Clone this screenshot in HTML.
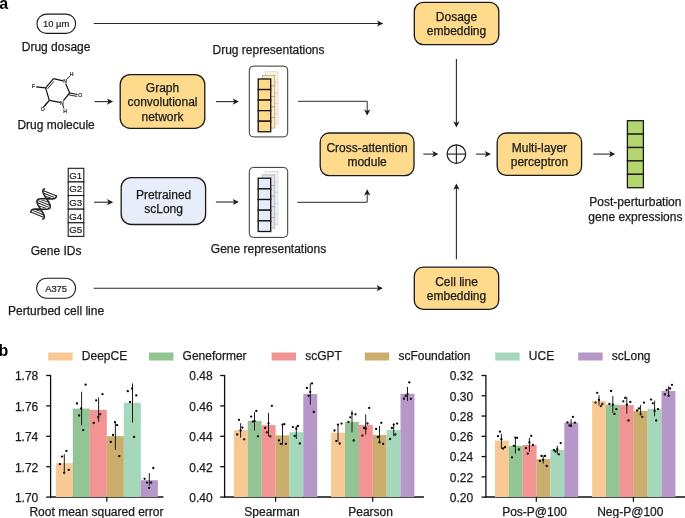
<!DOCTYPE html>
<html><head><meta charset="utf-8"><style>
html,body{margin:0;padding:0;background:#fff;}
body{width:685px;height:518px;overflow:hidden;}
svg{display:block;will-change:transform;font-family:"Liberation Sans",sans-serif;}
</style></head><body>
<svg width="685" height="518" viewBox="0 0 685 518">
<text x="-0.80" y="8.60" font-size="16" text-anchor="start" font-weight="bold" fill="#000" stroke="#000" stroke-width="0" >a</text>
<rect x="36.90" y="14.10" width="38.70" height="19.30" rx="9.6" ry="9.6" fill="#fff" stroke="#1a1a1a" stroke-width="1.1"/>
<text x="56.10" y="27.20" font-size="9.4" text-anchor="middle" font-weight="normal" fill="#1a1a1a" stroke="#1a1a1a" stroke-width="0.2" >10 µm</text>
<text x="56.10" y="50.80" font-size="12" text-anchor="middle" font-weight="normal" fill="#1a1a1a" stroke="#1a1a1a" stroke-width="0.25" >Drug dosage</text>
<line x1="93.70" y1="23.50" x2="379.20" y2="23.50" stroke="#2a2a2a" stroke-width="1.1"/>
<path d="M383.20,23.50 L377.00,26.60 L378.60,23.50 L377.00,20.40 Z" fill="#1a1a1a"/>
<rect x="414.30" y="2.30" width="84.50" height="42.30" rx="9" ry="9" fill="#FDDA8C" stroke="#1a1a1a" stroke-width="1.3"/>
<text x="456.50" y="20.60" font-size="12" text-anchor="middle" font-weight="normal" fill="#1a1a1a" stroke="#1a1a1a" stroke-width="0.25" >Dosage</text>
<text x="456.50" y="34.90" font-size="12" text-anchor="middle" font-weight="normal" fill="#1a1a1a" stroke="#1a1a1a" stroke-width="0.25" >embedding</text>
<line x1="456.40" y1="59.00" x2="456.40" y2="123.50" stroke="#2a2a2a" stroke-width="1.1"/>
<path d="M456.40,127.50 L453.30,121.30 L456.40,122.90 L459.50,121.30 Z" fill="#1a1a1a"/>
<line x1="36.20" y1="86.90" x2="45.60" y2="87.90" stroke="#111" stroke-width="1.2"/>
<line x1="45.60" y1="87.90" x2="53.50" y2="78.60" stroke="#111" stroke-width="1.2"/>
<line x1="47.60" y1="88.80" x2="53.90" y2="81.30" stroke="#111" stroke-width="0.9"/>
<line x1="53.50" y1="78.60" x2="63.20" y2="80.90" stroke="#111" stroke-width="1.2"/>
<line x1="65.60" y1="83.60" x2="69.70" y2="93.00" stroke="#111" stroke-width="1.2"/>
<line x1="69.70" y1="93.00" x2="77.60" y2="94.50" stroke="#111" stroke-width="1.2"/>
<line x1="69.30" y1="95.00" x2="77.30" y2="96.40" stroke="#111" stroke-width="0.9"/>
<line x1="69.70" y1="93.00" x2="63.40" y2="100.60" stroke="#111" stroke-width="1.2"/>
<line x1="59.90" y1="102.30" x2="49.30" y2="100.40" stroke="#111" stroke-width="1.2"/>
<line x1="49.30" y1="100.40" x2="45.60" y2="87.90" stroke="#111" stroke-width="1.2"/>
<line x1="49.30" y1="100.40" x2="44.20" y2="106.60" stroke="#111" stroke-width="1.2"/>
<line x1="47.60" y1="101.80" x2="43.00" y2="107.30" stroke="#111" stroke-width="0.9"/>
<line x1="66.30" y1="79.40" x2="69.80" y2="76.20" stroke="#111" stroke-width="1.0"/>
<line x1="62.60" y1="104.80" x2="63.90" y2="108.30" stroke="#111" stroke-width="1.0"/>
<text x="33.60" y="88.00" font-size="5.2" text-anchor="middle" font-weight="normal" fill="#1a1a1a" stroke="#1a1a1a" stroke-width="0.2" font-weight="normal">F</text>
<text x="65.00" y="83.30" font-size="5.2" text-anchor="middle" font-weight="normal" fill="#1a1a1a" stroke="#1a1a1a" stroke-width="0.2" >N</text>
<text x="71.60" y="76.40" font-size="5.2" text-anchor="middle" font-weight="normal" fill="#1a1a1a" stroke="#1a1a1a" stroke-width="0.2" >H</text>
<text x="80.30" y="96.80" font-size="5.2" text-anchor="middle" font-weight="normal" fill="#1a1a1a" stroke="#1a1a1a" stroke-width="0.2" >O</text>
<text x="61.80" y="104.60" font-size="5.2" text-anchor="middle" font-weight="normal" fill="#1a1a1a" stroke="#1a1a1a" stroke-width="0.2" >N</text>
<text x="65.00" y="112.90" font-size="5.2" text-anchor="middle" font-weight="normal" fill="#1a1a1a" stroke="#1a1a1a" stroke-width="0.2" >H</text>
<text x="42.80" y="110.60" font-size="5.2" text-anchor="middle" font-weight="normal" fill="#1a1a1a" stroke="#1a1a1a" stroke-width="0.2" >O</text>
<text x="56.10" y="128.90" font-size="12" text-anchor="middle" font-weight="normal" fill="#1a1a1a" stroke="#1a1a1a" stroke-width="0.25" >Drug molecule</text>
<line x1="94.60" y1="101.60" x2="109.10" y2="101.60" stroke="#2a2a2a" stroke-width="1.1"/>
<path d="M113.10,101.60 L106.90,104.70 L108.50,101.60 L106.90,98.50 Z" fill="#1a1a1a"/>
<rect x="120.20" y="74.60" width="84.60" height="53.70" rx="10" ry="10" fill="#FDDA8C" stroke="#1a1a1a" stroke-width="1.3"/>
<text x="162.50" y="91.80" font-size="12" text-anchor="middle" font-weight="normal" fill="#1a1a1a" stroke="#1a1a1a" stroke-width="0.25" >Graph</text>
<text x="162.50" y="106.20" font-size="12" text-anchor="middle" font-weight="normal" fill="#1a1a1a" stroke="#1a1a1a" stroke-width="0.25" >convolutional</text>
<text x="162.50" y="120.60" font-size="12" text-anchor="middle" font-weight="normal" fill="#1a1a1a" stroke="#1a1a1a" stroke-width="0.25" >network</text>
<line x1="215.90" y1="101.60" x2="234.90" y2="101.60" stroke="#2a2a2a" stroke-width="1.1"/>
<path d="M238.90,101.60 L232.70,104.70 L234.30,101.60 L232.70,98.50 Z" fill="#1a1a1a"/>
<rect x="249.30" y="66.10" width="38.40" height="70.80" rx="4" ry="4" fill="#fff" stroke="#333" stroke-width="1.0"/>
<rect x="265.40" y="71.80" width="12.5" height="10.55" fill="#FEF6E2" stroke="#D9D4C8" stroke-width="0.8"/>
<rect x="265.40" y="82.35" width="12.5" height="10.55" fill="#FEF6E2" stroke="#D9D4C8" stroke-width="0.8"/>
<rect x="265.40" y="92.90" width="12.5" height="10.55" fill="#FEF6E2" stroke="#D9D4C8" stroke-width="0.8"/>
<rect x="265.40" y="103.45" width="12.5" height="10.55" fill="#FEF6E2" stroke="#D9D4C8" stroke-width="0.8"/>
<rect x="265.40" y="114.00" width="12.5" height="10.55" fill="#FEF6E2" stroke="#D9D4C8" stroke-width="0.8"/>
<rect x="262.30" y="75.30" width="12.5" height="10.55" fill="#FDEBC0" stroke="#A9A498" stroke-width="0.8"/>
<rect x="262.30" y="85.85" width="12.5" height="10.55" fill="#FDEBC0" stroke="#A9A498" stroke-width="0.8"/>
<rect x="262.30" y="96.40" width="12.5" height="10.55" fill="#FDEBC0" stroke="#A9A498" stroke-width="0.8"/>
<rect x="262.30" y="106.95" width="12.5" height="10.55" fill="#FDEBC0" stroke="#A9A498" stroke-width="0.8"/>
<rect x="262.30" y="117.50" width="12.5" height="10.55" fill="#FDEBC0" stroke="#A9A498" stroke-width="0.8"/>
<rect x="258.20" y="79.00" width="12.5" height="10.55" fill="#FDDA8C" stroke="#111" stroke-width="1.3"/>
<rect x="258.20" y="89.55" width="12.5" height="10.55" fill="#FDDA8C" stroke="#111" stroke-width="1.3"/>
<rect x="258.20" y="100.10" width="12.5" height="10.55" fill="#FDDA8C" stroke="#111" stroke-width="1.3"/>
<rect x="258.20" y="110.65" width="12.5" height="10.55" fill="#FDDA8C" stroke="#111" stroke-width="1.3"/>
<rect x="258.20" y="121.20" width="12.5" height="10.55" fill="#FDDA8C" stroke="#111" stroke-width="1.3"/>
<text x="268.50" y="54.20" font-size="12" text-anchor="middle" font-weight="normal" fill="#1a1a1a" stroke="#1a1a1a" stroke-width="0.25" >Drug representations</text>
<line x1="298.10" y1="101.30" x2="367.20" y2="101.30" stroke="#2a2a2a" stroke-width="1.0"/>
<line x1="367.20" y1="101.30" x2="367.20" y2="111.50" stroke="#2a2a2a" stroke-width="1.0"/>
<path d="M367.20,115.60 L364.10,109.40 L367.20,111.00 L370.30,109.40 Z" fill="#1a1a1a"/>
<rect x="320.20" y="133.00" width="93.80" height="42.60" rx="9" ry="9" fill="#FDDA8C" stroke="#1a1a1a" stroke-width="1.3"/>
<text x="367.10" y="152.00" font-size="12" text-anchor="middle" font-weight="normal" fill="#1a1a1a" stroke="#1a1a1a" stroke-width="0.25" >Cross-attention</text>
<text x="367.10" y="165.70" font-size="12" text-anchor="middle" font-weight="normal" fill="#1a1a1a" stroke="#1a1a1a" stroke-width="0.25" >module</text>
<line x1="423.30" y1="154.10" x2="434.40" y2="154.10" stroke="#2a2a2a" stroke-width="1.1"/>
<path d="M438.40,154.10 L432.20,157.20 L433.80,154.10 L432.20,151.00 Z" fill="#1a1a1a"/>
<circle cx="456.4" cy="154.1" r="9.3" fill="#fff" stroke="#1a1a1a" stroke-width="1.2"/>
<line x1="447.10" y1="154.10" x2="465.70" y2="154.10" stroke="#2a2a2a" stroke-width="1.2"/>
<line x1="456.40" y1="144.80" x2="456.40" y2="163.40" stroke="#2a2a2a" stroke-width="1.2"/>
<line x1="476.00" y1="154.10" x2="487.00" y2="154.10" stroke="#2a2a2a" stroke-width="1.1"/>
<path d="M491.00,154.10 L484.80,157.20 L486.40,154.10 L484.80,151.00 Z" fill="#1a1a1a"/>
<rect x="497.20" y="133.00" width="84.40" height="42.40" rx="9" ry="9" fill="#FDDA8C" stroke="#1a1a1a" stroke-width="1.3"/>
<text x="539.40" y="152.00" font-size="12" text-anchor="middle" font-weight="normal" fill="#1a1a1a" stroke="#1a1a1a" stroke-width="0.25" >Multi-layer</text>
<text x="539.40" y="166.20" font-size="12" text-anchor="middle" font-weight="normal" fill="#1a1a1a" stroke="#1a1a1a" stroke-width="0.25" >perceptron</text>
<line x1="593.20" y1="154.10" x2="611.20" y2="154.10" stroke="#2a2a2a" stroke-width="1.1"/>
<path d="M615.20,154.10 L609.00,157.20 L610.60,154.10 L609.00,151.00 Z" fill="#1a1a1a"/>
<rect x="627.4" y="120.70" width="16.0" height="13.4" fill="#B3D56E" stroke="#1a1a1a" stroke-width="1.3"/>
<rect x="627.4" y="134.10" width="16.0" height="13.4" fill="#B3D56E" stroke="#1a1a1a" stroke-width="1.3"/>
<rect x="627.4" y="147.50" width="16.0" height="13.4" fill="#B3D56E" stroke="#1a1a1a" stroke-width="1.3"/>
<rect x="627.4" y="160.90" width="16.0" height="13.4" fill="#B3D56E" stroke="#1a1a1a" stroke-width="1.3"/>
<rect x="627.4" y="174.30" width="16.0" height="13.4" fill="#B3D56E" stroke="#1a1a1a" stroke-width="1.3"/>
<text x="635.40" y="206.30" font-size="12" text-anchor="middle" font-weight="normal" fill="#1a1a1a" stroke="#1a1a1a" stroke-width="0.25" >Post-perturbation</text>
<text x="635.40" y="220.50" font-size="12" text-anchor="middle" font-weight="normal" fill="#1a1a1a" stroke="#1a1a1a" stroke-width="0.25" >gene expressions</text>
<g transform="translate(43.6,204.0) rotate(30)"><path d="M-6.41,-14.00 L-6.81,-13.53 L-7.11,-13.07 L-7.31,-12.60 L-7.40,-12.13 L-7.37,-11.67 L-7.24,-11.20 L-7.00,-10.73 L-6.65,-10.27 L-6.21,-9.80 L-5.67,-9.33 L-5.05,-8.87 L-4.35,-8.40 L-3.59,-7.93 L-2.77,-7.47 L-1.92,-7.00 L-1.03,-6.53 L-0.13,-6.07 L0.77,-5.60 L1.66,-5.13 L2.53,-4.67 L3.36,-4.20 L4.14,-3.73 L4.85,-3.27 L5.50,-2.80 L6.06,-2.33 L6.53,-1.87 L6.91,-1.40 L7.18,-0.93 L7.34,-0.47 L7.40,0.00 L7.34,0.47 L7.18,0.93 L6.91,1.40 L6.53,1.87 L6.06,2.33 L5.50,2.80 L4.85,3.27 L4.14,3.73 L3.36,4.20 L2.53,4.67 L1.66,5.13 L0.77,5.60 L-0.13,6.07 L-1.03,6.53 L-1.92,7.00 L-2.77,7.47 L-3.59,7.93 L-4.35,8.40 L-5.05,8.87 L-5.67,9.33 L-6.21,9.80 L-6.65,10.27 L-7.00,10.73 L-7.24,11.20 L-7.37,11.67 L-7.40,12.13 L-7.31,12.60 L-7.11,13.07 L-6.81,13.53 L-6.41,14.00" fill="none" stroke="#222" stroke-width="1.6"/><path d="M6.41,-14.00 L6.81,-13.53 L7.11,-13.07 L7.31,-12.60 L7.40,-12.13 L7.37,-11.67 L7.24,-11.20 L7.00,-10.73 L6.65,-10.27 L6.21,-9.80 L5.67,-9.33 L5.05,-8.87 L4.35,-8.40 L3.59,-7.93 L2.77,-7.47 L1.92,-7.00 L1.03,-6.53 L0.13,-6.07 L-0.77,-5.60 L-1.66,-5.13 L-2.53,-4.67 L-3.36,-4.20 L-4.14,-3.73 L-4.85,-3.27 L-5.50,-2.80 L-6.06,-2.33 L-6.53,-1.87 L-6.91,-1.40 L-7.18,-0.93 L-7.34,-0.47 L-7.40,0.00 L-7.34,0.47 L-7.18,0.93 L-6.91,1.40 L-6.53,1.87 L-6.06,2.33 L-5.50,2.80 L-4.85,3.27 L-4.14,3.73 L-3.36,4.20 L-2.53,4.67 L-1.66,5.13 L-0.77,5.60 L0.13,6.07 L1.03,6.53 L1.92,7.00 L2.77,7.47 L3.59,7.93 L4.35,8.40 L5.05,8.87 L5.67,9.33 L6.21,9.80 L6.65,10.27 L7.00,10.73 L7.24,11.20 L7.37,11.67 L7.40,12.13 L7.31,12.60 L7.11,13.07 L6.81,13.53 L6.41,14.00" fill="none" stroke="#222" stroke-width="1.6"/><line x1="-6.66" y1="-11.50" x2="6.66" y2="-13.30" stroke="#222" stroke-width="0.95"/><line x1="-5.89" y1="-9.30" x2="5.89" y2="-11.10" stroke="#222" stroke-width="0.95"/><line x1="-3.00" y1="-7.10" x2="3.00" y2="-8.90" stroke="#222" stroke-width="0.95"/><line x1="-4.11" y1="-2.40" x2="4.11" y2="-4.20" stroke="#222" stroke-width="0.95"/><line x1="-6.40" y1="-0.20" x2="6.40" y2="-2.00" stroke="#222" stroke-width="0.95"/><line x1="-6.40" y1="2.00" x2="6.40" y2="0.20" stroke="#222" stroke-width="0.95"/><line x1="-4.11" y1="4.20" x2="4.11" y2="2.40" stroke="#222" stroke-width="0.95"/><line x1="-3.00" y1="8.90" x2="3.00" y2="7.10" stroke="#222" stroke-width="0.95"/><line x1="-5.89" y1="11.10" x2="5.89" y2="9.30" stroke="#222" stroke-width="0.95"/><line x1="-6.66" y1="13.30" x2="6.66" y2="11.50" stroke="#222" stroke-width="0.95"/></g>
<rect x="68.2" y="168.30" width="15.6" height="13.62" fill="#fff" stroke="#1a1a1a" stroke-width="1.1"/>
<text x="75.80" y="178.80" font-size="9.7" text-anchor="middle" font-weight="normal" fill="#1a1a1a" stroke="#1a1a1a" stroke-width="0.2" >G1</text>
<rect x="68.2" y="181.92" width="15.6" height="13.62" fill="#fff" stroke="#1a1a1a" stroke-width="1.1"/>
<text x="75.80" y="192.42" font-size="9.7" text-anchor="middle" font-weight="normal" fill="#1a1a1a" stroke="#1a1a1a" stroke-width="0.2" >G2</text>
<rect x="68.2" y="195.54" width="15.6" height="13.62" fill="#fff" stroke="#1a1a1a" stroke-width="1.1"/>
<text x="75.80" y="206.04" font-size="9.7" text-anchor="middle" font-weight="normal" fill="#1a1a1a" stroke="#1a1a1a" stroke-width="0.2" >G3</text>
<rect x="68.2" y="209.16" width="15.6" height="13.62" fill="#fff" stroke="#1a1a1a" stroke-width="1.1"/>
<text x="75.80" y="219.66" font-size="9.7" text-anchor="middle" font-weight="normal" fill="#1a1a1a" stroke="#1a1a1a" stroke-width="0.2" >G4</text>
<rect x="68.2" y="222.78" width="15.6" height="13.62" fill="#fff" stroke="#1a1a1a" stroke-width="1.1"/>
<text x="75.80" y="233.28" font-size="9.7" text-anchor="middle" font-weight="normal" fill="#1a1a1a" stroke="#1a1a1a" stroke-width="0.2" >G5</text>
<text x="56.10" y="254.80" font-size="12" text-anchor="middle" font-weight="normal" fill="#1a1a1a" stroke="#1a1a1a" stroke-width="0.25" >Gene IDs</text>
<line x1="94.10" y1="202.20" x2="109.20" y2="202.20" stroke="#2a2a2a" stroke-width="1.1"/>
<path d="M113.20,202.20 L107.00,205.30 L108.60,202.20 L107.00,199.10 Z" fill="#1a1a1a"/>
<rect x="121.20" y="177.60" width="84.40" height="46.90" rx="10" ry="10" fill="#E8EEF9" stroke="#1a1a1a" stroke-width="1.3"/>
<text x="163.60" y="199.00" font-size="12" text-anchor="middle" font-weight="normal" fill="#1a1a1a" stroke="#1a1a1a" stroke-width="0.25" >Pretrained</text>
<text x="163.60" y="213.20" font-size="12" text-anchor="middle" font-weight="normal" fill="#1a1a1a" stroke="#1a1a1a" stroke-width="0.25" >scLong</text>
<line x1="215.90" y1="202.00" x2="234.90" y2="202.00" stroke="#2a2a2a" stroke-width="1.1"/>
<path d="M238.90,202.00 L232.70,205.10 L234.30,202.00 L232.70,198.90 Z" fill="#1a1a1a"/>
<rect x="249.30" y="167.40" width="38.40" height="70.00" rx="4" ry="4" fill="#fff" stroke="#333" stroke-width="1.0"/>
<rect x="265.40" y="171.50" width="12.5" height="10.66" fill="#F4F6FA" stroke="#D4D6DA" stroke-width="0.8"/>
<rect x="265.40" y="182.16" width="12.5" height="10.66" fill="#F4F6FA" stroke="#D4D6DA" stroke-width="0.8"/>
<rect x="265.40" y="192.82" width="12.5" height="10.66" fill="#F4F6FA" stroke="#D4D6DA" stroke-width="0.8"/>
<rect x="265.40" y="203.48" width="12.5" height="10.66" fill="#F4F6FA" stroke="#D4D6DA" stroke-width="0.8"/>
<rect x="265.40" y="214.14" width="12.5" height="10.66" fill="#F4F6FA" stroke="#D4D6DA" stroke-width="0.8"/>
<rect x="262.30" y="174.90" width="12.5" height="10.66" fill="#E2E6EE" stroke="#A8AAAE" stroke-width="0.8"/>
<rect x="262.30" y="185.56" width="12.5" height="10.66" fill="#E2E6EE" stroke="#A8AAAE" stroke-width="0.8"/>
<rect x="262.30" y="196.22" width="12.5" height="10.66" fill="#E2E6EE" stroke="#A8AAAE" stroke-width="0.8"/>
<rect x="262.30" y="206.88" width="12.5" height="10.66" fill="#E2E6EE" stroke="#A8AAAE" stroke-width="0.8"/>
<rect x="262.30" y="217.54" width="12.5" height="10.66" fill="#E2E6EE" stroke="#A8AAAE" stroke-width="0.8"/>
<rect x="258.20" y="178.20" width="12.5" height="10.66" fill="#E6EDF8" stroke="#111" stroke-width="1.3"/>
<rect x="258.20" y="188.86" width="12.5" height="10.66" fill="#E6EDF8" stroke="#111" stroke-width="1.3"/>
<rect x="258.20" y="199.52" width="12.5" height="10.66" fill="#E6EDF8" stroke="#111" stroke-width="1.3"/>
<rect x="258.20" y="210.18" width="12.5" height="10.66" fill="#E6EDF8" stroke="#111" stroke-width="1.3"/>
<rect x="258.20" y="220.84" width="12.5" height="10.66" fill="#E6EDF8" stroke="#111" stroke-width="1.3"/>
<text x="268.50" y="252.50" font-size="12" text-anchor="middle" font-weight="normal" fill="#1a1a1a" stroke="#1a1a1a" stroke-width="0.25" >Gene representations</text>
<line x1="297.30" y1="202.30" x2="367.20" y2="202.30" stroke="#2a2a2a" stroke-width="1.0"/>
<line x1="367.20" y1="202.30" x2="367.20" y2="193.40" stroke="#2a2a2a" stroke-width="1.0"/>
<path d="M367.20,189.30 L370.30,195.50 L367.20,193.90 L364.10,195.50 Z" fill="#1a1a1a"/>
<rect x="36.60" y="278.20" width="39.00" height="20.00" rx="9.8" ry="9.8" fill="#fff" stroke="#1a1a1a" stroke-width="1.1"/>
<text x="56.10" y="291.60" font-size="9.4" text-anchor="middle" font-weight="normal" fill="#1a1a1a" stroke="#1a1a1a" stroke-width="0.2" >A375</text>
<text x="56.10" y="314.80" font-size="12" text-anchor="middle" font-weight="normal" fill="#1a1a1a" stroke="#1a1a1a" stroke-width="0.25" >Perturbed cell line</text>
<line x1="93.70" y1="288.20" x2="378.80" y2="288.20" stroke="#2a2a2a" stroke-width="1.1"/>
<path d="M382.80,288.20 L376.60,291.30 L378.20,288.20 L376.60,285.10 Z" fill="#1a1a1a"/>
<rect x="414.30" y="267.20" width="84.40" height="42.20" rx="9" ry="9" fill="#FDDA8C" stroke="#1a1a1a" stroke-width="1.3"/>
<text x="456.50" y="285.60" font-size="12" text-anchor="middle" font-weight="normal" fill="#1a1a1a" stroke="#1a1a1a" stroke-width="0.25" >Cell line</text>
<text x="456.50" y="300.00" font-size="12" text-anchor="middle" font-weight="normal" fill="#1a1a1a" stroke="#1a1a1a" stroke-width="0.25" >embedding</text>
<line x1="456.40" y1="259.20" x2="456.40" y2="187.60" stroke="#2a2a2a" stroke-width="1.1"/>
<path d="M456.40,183.60 L459.50,189.80 L456.40,188.20 L453.30,189.80 Z" fill="#1a1a1a"/>
<text x="-1.60" y="355.80" font-size="16" text-anchor="start" font-weight="bold" fill="#000" stroke="#000" stroke-width="0" >b</text>
<rect x="48.2" y="352.5" width="24.4" height="8.0" fill="#F8C995"/>
<text x="81.80" y="360.20" font-size="12" text-anchor="start" font-weight="normal" fill="#1a1a1a" stroke="#1a1a1a" stroke-width="0.25" >DeepCE</text>
<rect x="149.0" y="352.5" width="24.4" height="8.0" fill="#93C493"/>
<text x="182.60" y="360.20" font-size="12" text-anchor="start" font-weight="normal" fill="#1a1a1a" stroke="#1a1a1a" stroke-width="0.25" >Geneformer</text>
<rect x="271.6" y="352.5" width="24.4" height="8.0" fill="#F29394"/>
<text x="305.20" y="360.20" font-size="12" text-anchor="start" font-weight="normal" fill="#1a1a1a" stroke="#1a1a1a" stroke-width="0.25" >scGPT</text>
<rect x="364.8" y="352.5" width="24.4" height="8.0" fill="#CBAD6E"/>
<text x="398.40" y="360.20" font-size="12" text-anchor="start" font-weight="normal" fill="#1a1a1a" stroke="#1a1a1a" stroke-width="0.25" >scFoundation</text>
<rect x="495.2" y="352.5" width="24.4" height="8.0" fill="#A5D8BB"/>
<text x="528.80" y="360.20" font-size="12" text-anchor="start" font-weight="normal" fill="#1a1a1a" stroke="#1a1a1a" stroke-width="0.25" >UCE</text>
<rect x="578.2" y="352.5" width="24.4" height="8.0" fill="#B597C8"/>
<text x="611.80" y="360.20" font-size="12" text-anchor="start" font-weight="normal" fill="#1a1a1a" stroke="#1a1a1a" stroke-width="0.25" >scLong</text>
<line x1="50.60" y1="374.90" x2="50.60" y2="497.60" stroke="#0d0d0d" stroke-width="1.3"/>
<line x1="46.20" y1="375.50" x2="50.60" y2="375.50" stroke="#0d0d0d" stroke-width="1.3"/>
<text x="38.30" y="380.30" font-size="12" text-anchor="end" font-weight="normal" fill="#1a1a1a" stroke="#1a1a1a" stroke-width="0.25" >1.78</text>
<line x1="46.20" y1="405.90" x2="50.60" y2="405.90" stroke="#0d0d0d" stroke-width="1.3"/>
<text x="38.30" y="410.70" font-size="12" text-anchor="end" font-weight="normal" fill="#1a1a1a" stroke="#1a1a1a" stroke-width="0.25" >1.76</text>
<line x1="46.20" y1="436.30" x2="50.60" y2="436.30" stroke="#0d0d0d" stroke-width="1.3"/>
<text x="38.30" y="441.10" font-size="12" text-anchor="end" font-weight="normal" fill="#1a1a1a" stroke="#1a1a1a" stroke-width="0.25" >1.74</text>
<line x1="46.20" y1="466.70" x2="50.60" y2="466.70" stroke="#0d0d0d" stroke-width="1.3"/>
<text x="38.30" y="471.50" font-size="12" text-anchor="end" font-weight="normal" fill="#1a1a1a" stroke="#1a1a1a" stroke-width="0.25" >1.72</text>
<line x1="46.20" y1="497.10" x2="50.60" y2="497.10" stroke="#0d0d0d" stroke-width="1.3"/>
<text x="38.30" y="501.90" font-size="12" text-anchor="end" font-weight="normal" fill="#1a1a1a" stroke="#1a1a1a" stroke-width="0.25" >1.70</text>
<line x1="50.00" y1="497.00" x2="163.40" y2="497.00" stroke="#0d0d0d" stroke-width="1.3"/>
<rect x="55.80" y="463.20" width="17.05" height="33.80" fill="#F8C995"/>
<rect x="72.80" y="408.60" width="17.05" height="88.40" fill="#93C493"/>
<rect x="89.80" y="409.90" width="17.05" height="87.10" fill="#F29394"/>
<rect x="106.80" y="436.10" width="17.05" height="60.90" fill="#CBAD6E"/>
<rect x="123.80" y="402.80" width="17.05" height="94.20" fill="#A5D8BB"/>
<rect x="140.80" y="480.20" width="17.05" height="16.80" fill="#B597C8"/>
<line x1="64.30" y1="454.20" x2="64.30" y2="473.10" stroke="#111" stroke-width="0.95"/>
<circle cx="59.90" cy="464.20" r="1.15" fill="#000"/>
<circle cx="62.00" cy="456.60" r="1.15" fill="#000"/>
<circle cx="64.10" cy="472.80" r="1.15" fill="#000"/>
<circle cx="66.40" cy="450.90" r="1.15" fill="#000"/>
<circle cx="68.70" cy="469.90" r="1.15" fill="#000"/>
<line x1="81.60" y1="391.80" x2="81.60" y2="425.20" stroke="#111" stroke-width="0.95"/>
<circle cx="76.90" cy="403.50" r="1.15" fill="#000"/>
<circle cx="79.10" cy="415.50" r="1.15" fill="#000"/>
<circle cx="81.20" cy="408.40" r="1.15" fill="#000"/>
<circle cx="83.20" cy="430.10" r="1.15" fill="#000"/>
<circle cx="85.60" cy="384.70" r="1.15" fill="#000"/>
<line x1="98.60" y1="397.40" x2="98.60" y2="421.80" stroke="#111" stroke-width="0.95"/>
<circle cx="93.70" cy="423.00" r="1.15" fill="#000"/>
<circle cx="96.20" cy="400.30" r="1.15" fill="#000"/>
<circle cx="98.20" cy="417.10" r="1.15" fill="#000"/>
<circle cx="100.20" cy="414.30" r="1.15" fill="#000"/>
<circle cx="102.50" cy="394.20" r="1.15" fill="#000"/>
<line x1="115.40" y1="421.80" x2="115.40" y2="449.80" stroke="#111" stroke-width="0.95"/>
<circle cx="110.80" cy="441.90" r="1.15" fill="#000"/>
<circle cx="113.00" cy="435.00" r="1.15" fill="#000"/>
<circle cx="115.00" cy="422.20" r="1.15" fill="#000"/>
<circle cx="117.10" cy="425.20" r="1.15" fill="#000"/>
<circle cx="119.30" cy="456.10" r="1.15" fill="#000"/>
<line x1="132.50" y1="383.30" x2="132.50" y2="422.60" stroke="#111" stroke-width="0.95"/>
<circle cx="127.80" cy="391.20" r="1.15" fill="#000"/>
<circle cx="130.00" cy="402.10" r="1.15" fill="#000"/>
<circle cx="132.10" cy="388.70" r="1.15" fill="#000"/>
<circle cx="134.10" cy="437.00" r="1.15" fill="#000"/>
<circle cx="136.30" cy="395.40" r="1.15" fill="#000"/>
<line x1="149.30" y1="473.10" x2="149.30" y2="485.50" stroke="#111" stroke-width="0.95"/>
<circle cx="144.60" cy="478.80" r="1.15" fill="#000"/>
<circle cx="146.90" cy="482.60" r="1.15" fill="#000"/>
<circle cx="149.10" cy="487.80" r="1.15" fill="#000"/>
<circle cx="151.20" cy="482.60" r="1.15" fill="#000"/>
<circle cx="153.30" cy="468.00" r="1.15" fill="#000"/>
<line x1="106.80" y1="497.00" x2="106.80" y2="501.80" stroke="#0d0d0d" stroke-width="1.2"/>
<text x="96.50" y="515.80" font-size="12" text-anchor="middle" font-weight="normal" fill="#1a1a1a" stroke="#1a1a1a" stroke-width="0.25" >Root mean squared error</text>
<line x1="224.60" y1="374.90" x2="224.60" y2="497.60" stroke="#0d0d0d" stroke-width="1.3"/>
<line x1="220.20" y1="375.50" x2="224.60" y2="375.50" stroke="#0d0d0d" stroke-width="1.3"/>
<text x="212.60" y="380.30" font-size="12" text-anchor="end" font-weight="normal" fill="#1a1a1a" stroke="#1a1a1a" stroke-width="0.25" >0.48</text>
<line x1="220.20" y1="405.90" x2="224.60" y2="405.90" stroke="#0d0d0d" stroke-width="1.3"/>
<text x="212.60" y="410.70" font-size="12" text-anchor="end" font-weight="normal" fill="#1a1a1a" stroke="#1a1a1a" stroke-width="0.25" >0.46</text>
<line x1="220.20" y1="436.30" x2="224.60" y2="436.30" stroke="#0d0d0d" stroke-width="1.3"/>
<text x="212.60" y="441.10" font-size="12" text-anchor="end" font-weight="normal" fill="#1a1a1a" stroke="#1a1a1a" stroke-width="0.25" >0.44</text>
<line x1="220.20" y1="466.70" x2="224.60" y2="466.70" stroke="#0d0d0d" stroke-width="1.3"/>
<text x="212.60" y="471.50" font-size="12" text-anchor="end" font-weight="normal" fill="#1a1a1a" stroke="#1a1a1a" stroke-width="0.25" >0.42</text>
<line x1="220.20" y1="497.10" x2="224.60" y2="497.10" stroke="#0d0d0d" stroke-width="1.3"/>
<text x="212.60" y="501.90" font-size="12" text-anchor="end" font-weight="normal" fill="#1a1a1a" stroke="#1a1a1a" stroke-width="0.25" >0.40</text>
<line x1="224.00" y1="497.00" x2="423.90" y2="497.00" stroke="#0d0d0d" stroke-width="1.3"/>
<rect x="233.90" y="430.20" width="13.93" height="66.80" fill="#F8C995"/>
<rect x="247.78" y="421.00" width="13.93" height="76.00" fill="#93C493"/>
<rect x="261.66" y="425.10" width="13.93" height="71.90" fill="#F29394"/>
<rect x="275.54" y="435.40" width="13.93" height="61.60" fill="#CBAD6E"/>
<rect x="289.42" y="432.20" width="13.93" height="64.80" fill="#A5D8BB"/>
<rect x="303.30" y="394.00" width="13.93" height="103.00" fill="#B597C8"/>
<line x1="240.60" y1="423.20" x2="240.60" y2="437.60" stroke="#111" stroke-width="0.95"/>
<circle cx="237.20" cy="434.50" r="1.15" fill="#000"/>
<circle cx="239.00" cy="419.80" r="1.15" fill="#000"/>
<circle cx="240.60" cy="430.50" r="1.15" fill="#000"/>
<circle cx="242.40" cy="427.60" r="1.15" fill="#000"/>
<circle cx="244.20" cy="439.30" r="1.15" fill="#000"/>
<line x1="254.50" y1="412.20" x2="254.50" y2="430.50" stroke="#111" stroke-width="0.95"/>
<circle cx="251.10" cy="416.60" r="1.15" fill="#000"/>
<circle cx="252.80" cy="421.60" r="1.15" fill="#000"/>
<circle cx="254.50" cy="420.90" r="1.15" fill="#000"/>
<circle cx="256.30" cy="410.90" r="1.15" fill="#000"/>
<circle cx="257.90" cy="436.30" r="1.15" fill="#000"/>
<line x1="268.50" y1="412.90" x2="268.50" y2="436.30" stroke="#111" stroke-width="0.95"/>
<circle cx="265.10" cy="427.90" r="1.15" fill="#000"/>
<circle cx="266.80" cy="432.30" r="1.15" fill="#000"/>
<circle cx="268.50" cy="423.40" r="1.15" fill="#000"/>
<circle cx="270.30" cy="436.30" r="1.15" fill="#000"/>
<circle cx="271.90" cy="405.80" r="1.15" fill="#000"/>
<line x1="282.50" y1="424.20" x2="282.50" y2="445.20" stroke="#111" stroke-width="0.95"/>
<circle cx="278.90" cy="440.40" r="1.15" fill="#000"/>
<circle cx="280.70" cy="443.80" r="1.15" fill="#000"/>
<circle cx="282.50" cy="424.60" r="1.15" fill="#000"/>
<circle cx="284.30" cy="424.20" r="1.15" fill="#000"/>
<circle cx="285.90" cy="443.80" r="1.15" fill="#000"/>
<line x1="296.30" y1="426.00" x2="296.30" y2="439.00" stroke="#111" stroke-width="0.95"/>
<circle cx="292.90" cy="427.10" r="1.15" fill="#000"/>
<circle cx="294.70" cy="435.90" r="1.15" fill="#000"/>
<circle cx="296.30" cy="428.70" r="1.15" fill="#000"/>
<circle cx="298.00" cy="426.00" r="1.15" fill="#000"/>
<circle cx="299.80" cy="443.50" r="1.15" fill="#000"/>
<line x1="310.30" y1="383.40" x2="310.30" y2="404.70" stroke="#111" stroke-width="0.95"/>
<circle cx="306.90" cy="388.00" r="1.15" fill="#000"/>
<circle cx="308.60" cy="395.80" r="1.15" fill="#000"/>
<circle cx="310.30" cy="392.10" r="1.15" fill="#000"/>
<circle cx="312.00" cy="383.40" r="1.15" fill="#000"/>
<circle cx="313.80" cy="412.00" r="1.15" fill="#000"/>
<rect x="331.10" y="432.80" width="13.93" height="64.20" fill="#F8C995"/>
<rect x="344.98" y="421.90" width="13.93" height="75.10" fill="#93C493"/>
<rect x="358.86" y="424.90" width="13.93" height="72.10" fill="#F29394"/>
<rect x="372.74" y="435.00" width="13.93" height="62.00" fill="#CBAD6E"/>
<rect x="386.62" y="430.10" width="13.93" height="66.90" fill="#A5D8BB"/>
<rect x="400.50" y="393.80" width="13.93" height="103.20" fill="#B597C8"/>
<line x1="338.00" y1="424.20" x2="338.00" y2="441.80" stroke="#111" stroke-width="0.95"/>
<circle cx="334.50" cy="430.50" r="1.15" fill="#000"/>
<circle cx="336.30" cy="441.10" r="1.15" fill="#000"/>
<circle cx="338.00" cy="424.60" r="1.15" fill="#000"/>
<circle cx="339.70" cy="443.50" r="1.15" fill="#000"/>
<circle cx="341.50" cy="423.60" r="1.15" fill="#000"/>
<line x1="352.00" y1="410.50" x2="352.00" y2="432.40" stroke="#111" stroke-width="0.95"/>
<circle cx="348.50" cy="421.90" r="1.15" fill="#000"/>
<circle cx="350.30" cy="417.30" r="1.15" fill="#000"/>
<circle cx="352.00" cy="413.60" r="1.15" fill="#000"/>
<circle cx="353.70" cy="440.50" r="1.15" fill="#000"/>
<circle cx="355.50" cy="414.30" r="1.15" fill="#000"/>
<line x1="365.70" y1="414.30" x2="365.70" y2="434.60" stroke="#111" stroke-width="0.95"/>
<circle cx="362.40" cy="435.60" r="1.15" fill="#000"/>
<circle cx="364.00" cy="428.00" r="1.15" fill="#000"/>
<circle cx="365.70" cy="428.70" r="1.15" fill="#000"/>
<circle cx="367.50" cy="423.50" r="1.15" fill="#000"/>
<circle cx="369.20" cy="407.90" r="1.15" fill="#000"/>
<line x1="379.50" y1="426.00" x2="379.50" y2="443.40" stroke="#111" stroke-width="0.95"/>
<circle cx="376.10" cy="429.00" r="1.15" fill="#000"/>
<circle cx="377.90" cy="437.00" r="1.15" fill="#000"/>
<circle cx="379.50" cy="442.20" r="1.15" fill="#000"/>
<circle cx="381.30" cy="422.80" r="1.15" fill="#000"/>
<circle cx="383.10" cy="443.80" r="1.15" fill="#000"/>
<line x1="393.70" y1="423.60" x2="393.70" y2="436.30" stroke="#111" stroke-width="0.95"/>
<circle cx="390.10" cy="439.00" r="1.15" fill="#000"/>
<circle cx="391.90" cy="428.00" r="1.15" fill="#000"/>
<circle cx="393.70" cy="424.60" r="1.15" fill="#000"/>
<circle cx="395.30" cy="434.50" r="1.15" fill="#000"/>
<circle cx="397.10" cy="423.60" r="1.15" fill="#000"/>
<line x1="407.50" y1="387.00" x2="407.50" y2="400.80" stroke="#111" stroke-width="0.95"/>
<circle cx="404.00" cy="398.70" r="1.15" fill="#000"/>
<circle cx="405.70" cy="395.90" r="1.15" fill="#000"/>
<circle cx="407.50" cy="394.10" r="1.15" fill="#000"/>
<circle cx="409.30" cy="382.40" r="1.15" fill="#000"/>
<circle cx="410.90" cy="398.80" r="1.15" fill="#000"/>
<line x1="275.60" y1="497.00" x2="275.60" y2="501.80" stroke="#0d0d0d" stroke-width="1.2"/>
<line x1="372.70" y1="497.00" x2="372.70" y2="501.80" stroke="#0d0d0d" stroke-width="1.2"/>
<text x="272.00" y="515.80" font-size="12" text-anchor="middle" font-weight="normal" fill="#1a1a1a" stroke="#1a1a1a" stroke-width="0.25" >Spearman</text>
<text x="370.60" y="515.80" font-size="12" text-anchor="middle" font-weight="normal" fill="#1a1a1a" stroke="#1a1a1a" stroke-width="0.25" >Pearson</text>
<line x1="485.90" y1="374.90" x2="485.90" y2="497.60" stroke="#0d0d0d" stroke-width="1.3"/>
<line x1="481.50" y1="375.50" x2="485.90" y2="375.50" stroke="#0d0d0d" stroke-width="1.3"/>
<text x="473.20" y="380.30" font-size="12" text-anchor="end" font-weight="normal" fill="#1a1a1a" stroke="#1a1a1a" stroke-width="0.25" >0.32</text>
<line x1="481.50" y1="395.77" x2="485.90" y2="395.77" stroke="#0d0d0d" stroke-width="1.3"/>
<text x="473.20" y="400.57" font-size="12" text-anchor="end" font-weight="normal" fill="#1a1a1a" stroke="#1a1a1a" stroke-width="0.25" >0.30</text>
<line x1="481.50" y1="416.04" x2="485.90" y2="416.04" stroke="#0d0d0d" stroke-width="1.3"/>
<text x="473.20" y="420.84" font-size="12" text-anchor="end" font-weight="normal" fill="#1a1a1a" stroke="#1a1a1a" stroke-width="0.25" >0.28</text>
<line x1="481.50" y1="436.31" x2="485.90" y2="436.31" stroke="#0d0d0d" stroke-width="1.3"/>
<text x="473.20" y="441.11" font-size="12" text-anchor="end" font-weight="normal" fill="#1a1a1a" stroke="#1a1a1a" stroke-width="0.25" >0.26</text>
<line x1="481.50" y1="456.58" x2="485.90" y2="456.58" stroke="#0d0d0d" stroke-width="1.3"/>
<text x="473.20" y="461.38" font-size="12" text-anchor="end" font-weight="normal" fill="#1a1a1a" stroke="#1a1a1a" stroke-width="0.25" >0.24</text>
<line x1="481.50" y1="476.85" x2="485.90" y2="476.85" stroke="#0d0d0d" stroke-width="1.3"/>
<text x="473.20" y="481.65" font-size="12" text-anchor="end" font-weight="normal" fill="#1a1a1a" stroke="#1a1a1a" stroke-width="0.25" >0.22</text>
<line x1="481.50" y1="497.12" x2="485.90" y2="497.12" stroke="#0d0d0d" stroke-width="1.3"/>
<text x="473.20" y="501.92" font-size="12" text-anchor="end" font-weight="normal" fill="#1a1a1a" stroke="#1a1a1a" stroke-width="0.25" >0.20</text>
<line x1="485.30" y1="497.00" x2="685.50" y2="497.00" stroke="#0d0d0d" stroke-width="1.3"/>
<rect x="494.90" y="440.60" width="13.93" height="56.40" fill="#F8C995"/>
<rect x="508.78" y="445.80" width="13.93" height="51.20" fill="#93C493"/>
<rect x="522.66" y="445.00" width="13.93" height="52.00" fill="#F29394"/>
<rect x="536.54" y="459.10" width="13.93" height="37.90" fill="#CBAD6E"/>
<rect x="550.42" y="449.80" width="13.93" height="47.20" fill="#A5D8BB"/>
<rect x="564.30" y="422.60" width="13.93" height="74.40" fill="#B597C8"/>
<line x1="501.40" y1="433.70" x2="501.40" y2="448.80" stroke="#111" stroke-width="0.95"/>
<circle cx="498.00" cy="436.20" r="1.15" fill="#000"/>
<circle cx="499.90" cy="431.70" r="1.15" fill="#000"/>
<circle cx="501.40" cy="439.20" r="1.15" fill="#000"/>
<circle cx="503.10" cy="448.50" r="1.15" fill="#000"/>
<circle cx="505.00" cy="447.20" r="1.15" fill="#000"/>
<line x1="515.40" y1="437.20" x2="515.40" y2="453.60" stroke="#111" stroke-width="0.95"/>
<circle cx="512.00" cy="457.30" r="1.15" fill="#000"/>
<circle cx="513.80" cy="445.80" r="1.15" fill="#000"/>
<circle cx="515.40" cy="437.60" r="1.15" fill="#000"/>
<circle cx="517.10" cy="437.80" r="1.15" fill="#000"/>
<circle cx="519.00" cy="449.50" r="1.15" fill="#000"/>
<line x1="529.40" y1="437.80" x2="529.40" y2="451.80" stroke="#111" stroke-width="0.95"/>
<circle cx="526.00" cy="448.10" r="1.15" fill="#000"/>
<circle cx="527.80" cy="453.60" r="1.15" fill="#000"/>
<circle cx="529.40" cy="442.40" r="1.15" fill="#000"/>
<circle cx="531.20" cy="435.80" r="1.15" fill="#000"/>
<circle cx="532.90" cy="445.00" r="1.15" fill="#000"/>
<line x1="543.20" y1="455.40" x2="543.20" y2="463.60" stroke="#111" stroke-width="0.95"/>
<circle cx="539.90" cy="460.90" r="1.15" fill="#000"/>
<circle cx="541.50" cy="456.00" r="1.15" fill="#000"/>
<circle cx="543.20" cy="459.80" r="1.15" fill="#000"/>
<circle cx="545.00" cy="456.00" r="1.15" fill="#000"/>
<circle cx="546.70" cy="466.00" r="1.15" fill="#000"/>
<line x1="557.30" y1="445.80" x2="557.30" y2="454.30" stroke="#111" stroke-width="0.95"/>
<circle cx="553.90" cy="450.20" r="1.15" fill="#000"/>
<circle cx="555.50" cy="451.60" r="1.15" fill="#000"/>
<circle cx="557.30" cy="449.50" r="1.15" fill="#000"/>
<circle cx="558.90" cy="454.30" r="1.15" fill="#000"/>
<circle cx="560.70" cy="443.10" r="1.15" fill="#000"/>
<line x1="571.10" y1="419.30" x2="571.10" y2="426.20" stroke="#111" stroke-width="0.95"/>
<circle cx="567.50" cy="422.40" r="1.15" fill="#000"/>
<circle cx="569.50" cy="425.50" r="1.15" fill="#000"/>
<circle cx="570.90" cy="425.80" r="1.15" fill="#000"/>
<circle cx="572.90" cy="416.90" r="1.15" fill="#000"/>
<circle cx="574.80" cy="422.70" r="1.15" fill="#000"/>
<rect x="592.10" y="401.00" width="13.93" height="96.00" fill="#F8C995"/>
<rect x="605.98" y="404.70" width="13.93" height="92.30" fill="#93C493"/>
<rect x="619.86" y="405.10" width="13.93" height="91.90" fill="#F29394"/>
<rect x="633.74" y="410.90" width="13.93" height="86.10" fill="#CBAD6E"/>
<rect x="647.62" y="408.80" width="13.93" height="88.20" fill="#A5D8BB"/>
<rect x="661.50" y="391.00" width="13.93" height="106.00" fill="#B597C8"/>
<line x1="599.00" y1="395.40" x2="599.00" y2="405.40" stroke="#111" stroke-width="0.95"/>
<circle cx="595.50" cy="402.60" r="1.15" fill="#000"/>
<circle cx="597.20" cy="392.80" r="1.15" fill="#000"/>
<circle cx="599.00" cy="399.90" r="1.15" fill="#000"/>
<circle cx="600.80" cy="406.10" r="1.15" fill="#000"/>
<circle cx="602.40" cy="404.00" r="1.15" fill="#000"/>
<line x1="612.80" y1="396.10" x2="612.80" y2="412.90" stroke="#111" stroke-width="0.95"/>
<circle cx="609.40" cy="404.00" r="1.15" fill="#000"/>
<circle cx="611.10" cy="391.00" r="1.15" fill="#000"/>
<circle cx="612.80" cy="404.70" r="1.15" fill="#000"/>
<circle cx="614.50" cy="413.90" r="1.15" fill="#000"/>
<circle cx="616.30" cy="409.20" r="1.15" fill="#000"/>
<line x1="626.80" y1="396.70" x2="626.80" y2="413.60" stroke="#111" stroke-width="0.95"/>
<circle cx="623.30" cy="401.30" r="1.15" fill="#000"/>
<circle cx="625.10" cy="397.80" r="1.15" fill="#000"/>
<circle cx="626.80" cy="404.70" r="1.15" fill="#000"/>
<circle cx="628.50" cy="420.50" r="1.15" fill="#000"/>
<circle cx="630.30" cy="402.00" r="1.15" fill="#000"/>
<line x1="640.60" y1="405.10" x2="640.60" y2="415.00" stroke="#111" stroke-width="0.95"/>
<circle cx="637.10" cy="410.50" r="1.15" fill="#000"/>
<circle cx="638.90" cy="408.50" r="1.15" fill="#000"/>
<circle cx="640.60" cy="414.30" r="1.15" fill="#000"/>
<circle cx="642.30" cy="416.80" r="1.15" fill="#000"/>
<circle cx="644.00" cy="402.60" r="1.15" fill="#000"/>
<line x1="654.60" y1="400.60" x2="654.60" y2="416.40" stroke="#111" stroke-width="0.95"/>
<circle cx="651.10" cy="399.60" r="1.15" fill="#000"/>
<circle cx="652.80" cy="403.30" r="1.15" fill="#000"/>
<circle cx="654.60" cy="410.90" r="1.15" fill="#000"/>
<circle cx="656.20" cy="420.50" r="1.15" fill="#000"/>
<circle cx="658.00" cy="409.10" r="1.15" fill="#000"/>
<line x1="668.60" y1="386.20" x2="668.60" y2="396.50" stroke="#111" stroke-width="0.95"/>
<circle cx="664.80" cy="394.40" r="1.15" fill="#000"/>
<circle cx="666.60" cy="390.00" r="1.15" fill="#000"/>
<circle cx="668.60" cy="395.80" r="1.15" fill="#000"/>
<circle cx="670.10" cy="388.50" r="1.15" fill="#000"/>
<circle cx="672.00" cy="384.80" r="1.15" fill="#000"/>
<line x1="536.30" y1="497.00" x2="536.30" y2="501.80" stroke="#0d0d0d" stroke-width="1.2"/>
<line x1="633.40" y1="497.00" x2="633.40" y2="501.80" stroke="#0d0d0d" stroke-width="1.2"/>
<text x="534.60" y="515.80" font-size="12" text-anchor="middle" font-weight="normal" fill="#1a1a1a" stroke="#1a1a1a" stroke-width="0.25" >Pos-P@100</text>
<text x="630.30" y="515.80" font-size="12" text-anchor="middle" font-weight="normal" fill="#1a1a1a" stroke="#1a1a1a" stroke-width="0.25" >Neg-P@100</text>
</svg>
</body></html>
